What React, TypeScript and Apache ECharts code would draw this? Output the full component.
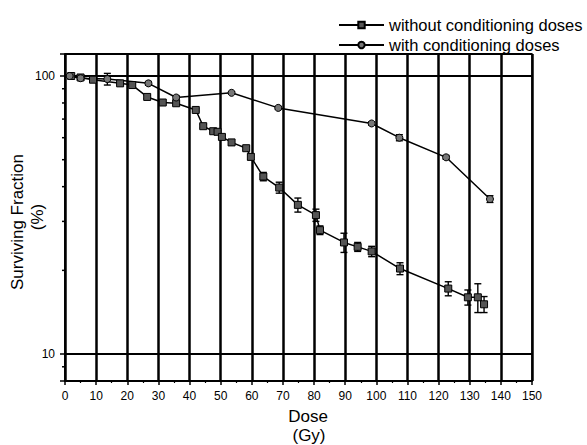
import { useEffect, useRef } from 'react';
import * as echarts from 'echarts';

const xTickLabels = ['0', '10', '20', '30', '40', '50', '60', '70', '80', '90', '100', '110', '120', '130', '140', '150'];
const yTickLabels = ['10', '100'];
const yMinorTicks = [9, 20, 30, 40, 50, 60, 70, 80, 90];

const withoutDose = [2, 5, 9, 17.7, 21.6, 26.4, 31.4, 35.7, 42, 44.4, 47.6, 49, 50.4, 53.5, 58.2, 59.7, 63.7, 68.8, 74.8, 80.6, 81.9, 89.6, 94, 98.5, 107.6, 123.1, 129.4, 132.6, 134.6];
const withoutSF = [100, 98.8, 97, 94.1, 92.8, 84.1, 80.3, 79.8, 75.5, 66, 63.3, 63, 60.4, 57.7, 55, 51.2, 43.5, 39.7, 34.4, 31.6, 27.9, 25.2, 24.3, 23.4, 20.3, 17.2, 16.0, 16.0, 15.1];
const withoutErr = [0.8, 1.2, 1, 0.8, 0.8, 1.2, 1, 1.2, 0.8, 1, 0.8, 0.8, 1, 1.3, 0.8, 1.2, 1.5, 1.8, 2, 1.6, 1, 2, 0.9, 1, 1, 1, 1, 1.9, 1];

const withDose = [1.5, 5, 13.6, 26.8, 35.7, 53.5, 68.5, 98.5, 107.4, 122.4, 136.5];
const withSF = [100, 98.2, 97.5, 94.1, 83.7, 87, 76.8, 67.5, 60, 51, 36.1];
const withErr = [0.8, 1, 4.7, 1.5, 1.3, 1, 1, 1, 1.5, 0.8, 1];

const FONT = 'Arial, "Liberation Sans", sans-serif';

export default function App() {
  const ref = useRef<HTMLDivElement>(null);
  useEffect(() => {
    document.body.style.margin = '0';
    if (!ref.current) return;
    const chart = echarts.init(ref.current, null, { renderer: 'svg' });

    const errRender = (params: any, api: any) => {
      const x = api.value(0);
      const lo = api.value(1);
      const hi = api.value(2);
      const a = api.coord([x, lo]);
      const b = api.coord([x, hi]);
      const w = 3.5;
      const st = { stroke: '#000', lineWidth: 1.4 };
      return {
        type: 'group',
        children: [
          { type: 'line', shape: { x1: a[0], y1: a[1], x2: b[0], y2: b[1] }, style: st },
          { type: 'line', shape: { x1: a[0] - w, y1: a[1], x2: a[0] + w, y2: a[1] }, style: st },
          { type: 'line', shape: { x1: b[0] - w, y1: b[1], x2: b[0] + w, y2: b[1] }, style: st },
        ],
      };
    };

    const option: any = {
      animation: false,
      textStyle: { fontFamily: FONT },
      grid: { left: 65, right: 55, top: 54, bottom: 64, show: true, borderColor: '#000', borderWidth: 1.5, backgroundColor: 'transparent' },
      legend: {
        orient: 'vertical',
        left: 333,
        top: 11,
        itemWidth: 45,
        itemHeight: 8,
        itemGap: 2,
        textStyle: { fontSize: 16.5, lineHeight: 18, color: '#000', fontFamily: FONT },
        data: ['without conditioning doses', 'with conditioning doses'],
      },
      xAxis: {
        type: 'value',
        min: 0,
        max: 150,
        interval: 10,
        axisLine: { lineStyle: { color: '#000', width: 1.5 } },
        axisTick: { show: true, length: 4, lineStyle: { color: '#000', width: 1.5 } },
        minorTick: { show: true, splitNumber: 2, length: 2, lineStyle: { color: '#000', width: 1.2 } },
        splitLine: { show: true, lineStyle: { color: '#000', width: 2.5 } },
        axisLabel: {
          color: '#000',
          fontSize: 12,
          margin: 9,
          fontFamily: FONT,
          formatter: (v: number) => xTickLabels[Math.round(v / 10)] ?? '',
        },
      },
      yAxis: {
        type: 'log',
        logBase: 10,
        min: 8,
        max: 120,
        axisLine: { lineStyle: { color: '#000', width: 1.5 } },
        axisTick: { show: true, length: 5, lineStyle: { color: '#000', width: 1.5 } },
        splitLine: { show: true, lineStyle: { color: '#000', width: 2.2 } },
        axisLabel: {
          color: '#000',
          fontSize: 12,
          margin: 10,
          fontFamily: FONT,
          formatter: (v: number) => {
            const s = String(Math.round(v));
            return yTickLabels.indexOf(s) >= 0 ? s : '';
          },
        },
      },
      graphic: [
        { type: 'text', x: 17, y: 222, rotation: Math.PI / 2, style: { text: 'Surviving Fraction', font: `17px ${FONT}`, fill: '#000', textAlign: 'center', textVerticalAlign: 'middle' } },
        { type: 'text', x: 37, y: 217, rotation: Math.PI / 2, style: { text: '(%)', font: `17px ${FONT}`, fill: '#000', textAlign: 'center', textVerticalAlign: 'middle' } },
        { type: 'text', x: 308, y: 416, style: { text: 'Dose', font: `17px ${FONT}`, fill: '#000', textAlign: 'center', textVerticalAlign: 'middle' } },
        { type: 'text', x: 309, y: 435, style: { text: '(Gy)', font: `17px ${FONT}`, fill: '#000', textAlign: 'center', textVerticalAlign: 'middle' } },
      ],
      series: [
        {
          type: 'custom',
          name: 'minorY',
          silent: true,
          z: 5,
          clip: false,
          renderItem: (params: any, api: any) => {
            const p = api.coord([0, api.value(1)]);
            return { type: 'line', shape: { x1: p[0] - 3, y1: p[1], x2: p[0], y2: p[1] }, style: { stroke: '#000', lineWidth: 1.5 } };
          },
          encode: { x: 0, y: 1 },
          data: yMinorTicks.map((v) => [0, v]),
        },
        {
          type: 'custom',
          name: 'errWithout',
          silent: true,
          z: 3,
          renderItem: errRender,
          encode: { x: 0, y: [1, 2] },
          data: withoutDose.map((d, i) => [d, withoutSF[i] - withoutErr[i], withoutSF[i] + withoutErr[i]]),
        },
        {
          type: 'custom',
          name: 'errWith',
          silent: true,
          z: 3,
          renderItem: errRender,
          encode: { x: 0, y: [1, 2] },
          data: withDose.map((d, i) => [d, withSF[i] - withErr[i], withSF[i] + withErr[i]]),
        },
        {
          type: 'line',
          name: 'without conditioning doses',
          z: 4,
          symbol: 'rect',
          symbolSize: 7,
          lineStyle: { color: '#000', width: 1.5 },
          itemStyle: { color: '#555', borderColor: '#000', borderWidth: 1 },
          data: withoutDose.map((d, i) => [d, withoutSF[i]]),
        },
        {
          type: 'line',
          name: 'with conditioning doses',
          z: 4,
          symbol: 'circle',
          symbolSize: 7,
          lineStyle: { color: '#000', width: 1.5 },
          itemStyle: { color: '#777', borderColor: '#000', borderWidth: 1 },
          data: withDose.map((d, i) => [d, withSF[i]]),
        },
      ],
    };
    chart.setOption(option);
    return () => chart.dispose();
  }, []);
  return <div ref={ref} style={{ width: 587, height: 445 }} />;
}
